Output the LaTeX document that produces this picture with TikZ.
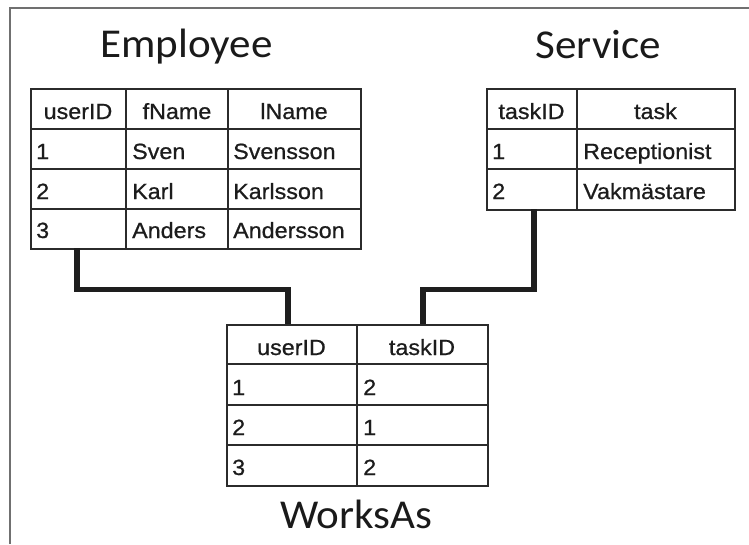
\documentclass[tikz,border=0pt]{standalone}
\usepackage{fontspec}
\newfontfamily\tabfont[FakeStretch=1.06,FakeBold=0.7]{Liberation Sans}
\newfontfamily\titfont[FakeStretch=1.05]{Carlito}
\definecolor{gridc}{HTML}{2B2B2B}
\definecolor{linkc}{HTML}{1E1E1E}
\definecolor{framec}{HTML}{707070}
\definecolor{titc}{HTML}{1A1A1A}
\definecolor{tabc}{HTML}{1C1C1C}
\tikzset{
  grid/.style={draw=gridc, line width=1.6pt},
  link/.style={draw=linkc, line width=5.5pt, line join=miter},
  frame/.style={draw=framec, line width=1.5pt},
  hcell/.style={anchor=base, inner sep=0pt, text=tabc, font=\tabfont\fontsize{22}{26}\selectfont},
  dcell/.style={anchor=base west, inner sep=0pt, text=tabc, font=\tabfont\fontsize{22}{26}\selectfont},
  ttl/.style={anchor=base, inner sep=0pt, text=titc, font=\titfont\fontsize{41}{48}\selectfont},
}
\begin{document}
\begin{tikzpicture}[x=1pt,y=-1pt]
\useasboundingbox (0,0) rectangle (749,544);
\fill[white] (0,0) rectangle (749,544);
% frame
\draw[frame] (10,544) -- (10,8) -- (749,8);

% titles
\node[ttl] (tEmp) at (186.5,57) {Employee};
\node[ttl] (tSrv) at (598.5,58) {Service};
\node[ttl] (tWa) at (356,528) {WorksAs};

% Employee table
\node[grid, inner sep=0pt, minimum width=330pt, minimum height=160pt, anchor=north west] (emp) at (30,88) {};
\draw[grid] (126,88) -- (126,248) (228,88) -- (228,248)
  (30,129) -- (360,129) (30,169) -- (360,169) (30,209) -- (360,209);
\node[hcell] (e-h1) at (78,119) {userID};
\node[hcell] (e-h2) at (177,119) {fName};
\node[hcell] (e-h3) at (294,119) {lName};
\node[dcell] (e-11) at (36,159) {1};
\node[dcell] (e-12) at (132,159) {Sven};
\node[dcell] (e-13) at (233,159) {Svensson};
\node[dcell] (e-21) at (36,199) {2};
\node[dcell] (e-22) at (132,199) {Karl};
\node[dcell] (e-23) at (233,199) {Karlsson};
\node[dcell] (e-31) at (36,238) {3};
\node[dcell] (e-32) at (132,238) {Anders};
\node[dcell] (e-33) at (233,238) {Andersson};

% Service table
\node[grid, inner sep=0pt, minimum width=248pt, minimum height=121pt, anchor=north west] (srv) at (486,88) {};
\draw[grid] (577,88) -- (577,209)
  (486,129) -- (734,129) (486,169) -- (734,169);
\node[hcell] (s-h1) at (531.5,119) {taskID};
\node[hcell] (s-h2) at (655.5,119) {task};
\node[dcell] (s-11) at (492,159) {1};
\node[dcell] (s-12) at (583,159) {Receptionist};
\node[dcell] (s-21) at (492,199) {2};
\node[dcell] (s-22) at (583,199) {Vakmästare};

% WorksAs table
\node[grid, inner sep=0pt, minimum width=261pt, minimum height=161pt, anchor=north west] (wa) at (226,324) {};
\draw[grid] (357,324) -- (357,485)
  (226,364) -- (487,364) (226,405) -- (487,405) (226,445) -- (487,445);
\node[hcell] (w-h1) at (291.5,355) {userID};
\node[hcell] (w-h2) at (422,355) {taskID};
\node[dcell] (w-11) at (232,395) {1};
\node[dcell] (w-12) at (363,395) {2};
\node[dcell] (w-21) at (232,435) {2};
\node[dcell] (w-22) at (363,435) {1};
\node[dcell] (w-31) at (232,475) {3};
\node[dcell] (w-32) at (363,475) {2};

% connector anchor points
\coordinate (empU) at (77,248);
\coordinate (waU) at (288,324);
\coordinate (srvT) at (534,209);
\coordinate (waT) at (423,324);

\draw[link] (empU) -- (77,289.5) -| (waU);
\draw[link] (srvT) -- (534,289.5) -| (waT);
\end{tikzpicture}
\end{document}
